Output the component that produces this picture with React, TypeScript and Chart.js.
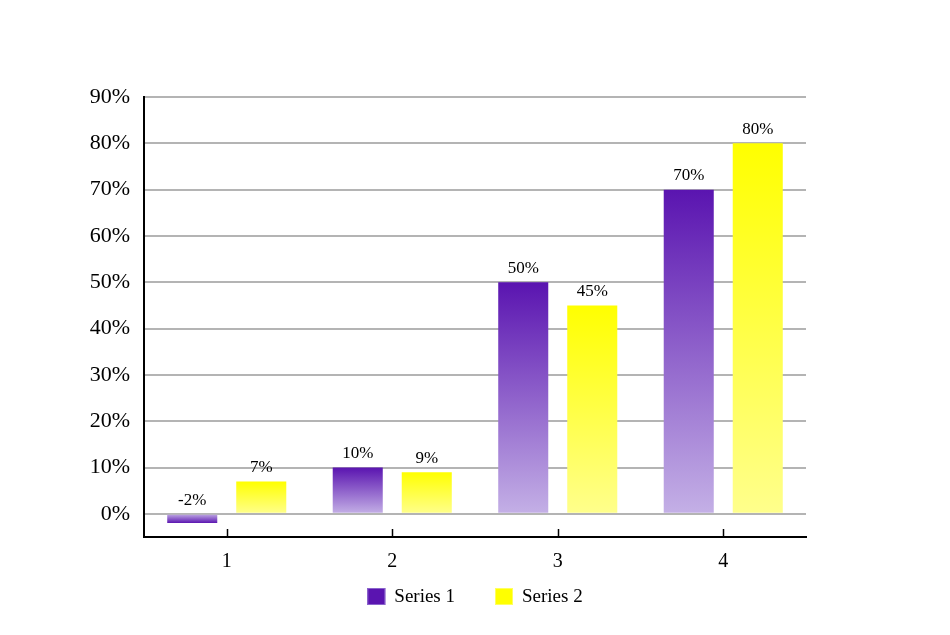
import React, { useEffect, useRef } from "react";
import { Chart, registerables } from "chart.js";

Chart.register(...registerables);

const categories = ["1", "2", "3", "4"];
const seriesNames = ["Series 1", "Series 2"];
const series1 = [-2, 10, 50, 70];
const series2 = [7, 9, 45, 80];
const yTickValues = [0, 10, 20, 30, 40, 50, 60, 70, 80, 90];
const yMin = -5;
const yMax = 90;

const FONT = "'Liberation Serif', 'Times New Roman', serif";
const PURPLE_DARK = "#5a14b0";
const PURPLE_LIGHT = "#c4b0e6";
const YELLOW_DARK = "#ffff00";
const YELLOW_LIGHT = "#ffff8c";
const LEGEND_FILL = [PURPLE_DARK, YELLOW_DARK];
const LEGEND_STROKE = ["#8a64cc", "#ffff60"];

function gradientFor(dark: string, light: string) {
  return (ctx: any) => {
    const chart = ctx.chart;
    const y = chart.scales && chart.scales.y;
    if (!chart.chartArea || !y || ctx.type !== "data") return dark;
    const v = ctx.raw as number;
    const p1 = y.getPixelForValue(v);
    const p0 = y.getPixelForValue(0);
    if (Math.abs(p1 - p0) < 0.5) return dark;
    const g = chart.ctx.createLinearGradient(0, p1, 0, p0);
    g.addColorStop(0, dark);
    g.addColorStop(1, light);
    return g;
  };
}

const valueLabels = {
  id: "valueLabels",
  afterDatasetsDraw(chart: any) {
    const { ctx } = chart;
    chart.data.datasets.forEach((ds: any, di: number) => {
      const meta = chart.getDatasetMeta(di);
      meta.data.forEach((bar: any, i: number) => {
        const v = ds.data[i];
        const top = Math.min(bar.y, bar.base);
        ctx.save();
        ctx.font = `17px ${FONT}`;
        ctx.fillStyle = "#000";
        ctx.textAlign = "center";
        ctx.textBaseline = "middle";
        ctx.fillText(`${v}%`, bar.x, top - 14);
        ctx.restore();
      });
    });
  },
};

const innerTicks = {
  id: "innerTicks",
  afterDraw(chart: any) {
    const { ctx, chartArea } = chart;
    const x = chart.scales.x;
    ctx.save();
    ctx.strokeStyle = "#000";
    ctx.lineWidth = 1.5;
    categories.forEach((_, i) => {
      const px = Math.round(x.getPixelForValue(i)) + 0.5;
      ctx.beginPath();
      ctx.moveTo(px, chartArea.bottom - 8);
      ctx.lineTo(px, chartArea.bottom);
      ctx.stroke();
    });
    ctx.restore();
  },
};

const customLegend = {
  id: "customLegend",
  afterDraw(chart: any) {
    const { ctx } = chart;
    const boxW = 18;
    const boxH = 17;
    const gap = 9;
    const itemGap = 40;
    ctx.save();
    ctx.font = `19px ${FONT}`;
    const items = chart.data.datasets.map((ds: any, i: number) => ({
      text: ds.label,
      w: boxW + gap + ctx.measureText(ds.label).width,
      i,
    }));
    const total =
      items.reduce((a: number, it: any) => a + it.w, 0) + itemGap * (items.length - 1);
    let x = chart.width / 2 - total / 2;
    const boxTop = 588;
    items.forEach((it: any) => {
      ctx.fillStyle = LEGEND_FILL[it.i];
      ctx.fillRect(x, boxTop, boxW, boxH);
      ctx.strokeStyle = LEGEND_STROKE[it.i];
      ctx.lineWidth = 1;
      ctx.strokeRect(x + 0.5, boxTop + 0.5, boxW - 1, boxH - 1);
      ctx.fillStyle = "#000";
      ctx.textAlign = "left";
      ctx.textBaseline = "middle";
      ctx.fillText(it.text, x + boxW + gap, boxTop + boxH / 2 + 1);
      x += it.w + itemGap;
    });
    ctx.restore();
  },
};

export default function App() {
  const ref = useRef<HTMLCanvasElement | null>(null);
  useEffect(() => {
    document.body.style.margin = "0";
    if (!ref.current) return;
    const chart = new Chart(ref.current, {
      type: "bar",
      data: {
        labels: categories,
        datasets: [
          {
            label: seriesNames[0],
            data: series1,
            backgroundColor: gradientFor(PURPLE_DARK, PURPLE_LIGHT),
            categoryPercentage: 0.834,
            barPercentage: 0.725,
          },
          {
            label: seriesNames[1],
            data: series2,
            backgroundColor: gradientFor(YELLOW_DARK, YELLOW_LIGHT),
            categoryPercentage: 0.834,
            barPercentage: 0.725,
          },
        ],
      },
      options: {
        responsive: false,
        animation: false,
        devicePixelRatio: 1,
        layout: { padding: { top: 97, bottom: 58, left: 0, right: 0 } },
        font: { family: FONT },
        plugins: {
          tooltip: { enabled: false },
          legend: { display: false },
        },
        scales: {
          x: {
            grid: { display: false },
            border: { display: true, color: "#000", width: 2 },
            ticks: {
              color: "#000",
              font: { family: FONT, size: 20 },
              padding: 5,
              autoSkip: false,
            },
            afterFit: (s: any) => {
              s.height = 40;
            },
          },
          y: {
            min: yMin,
            max: yMax,
            grid: { color: "#b4b4b4", lineWidth: 2, drawTicks: false },
            border: { display: true, color: "#000", width: 2 },
            ticks: {
              color: "#000",
              font: { family: FONT, size: 22 },
              padding: 14,
              callback: (v: any) => `${v}%`,
            },
            afterBuildTicks: (s: any) => {
              s.ticks = yTickValues.map((v) => ({ value: v }));
            },
            afterFit: (s: any) => {
              s.width = 144;
            },
          },
          yRight: {
            type: "linear",
            position: "right",
            display: true,
            grid: { display: false },
            border: { display: false },
            ticks: { display: false },
            afterFit: (s: any) => {
              s.width = 144;
            },
          },
        },
      } as any,
      plugins: [valueLabels, innerTicks, customLegend],
    });
    return () => chart.destroy();
  }, []);
  return (
    <div style={{ position: "absolute", left: 0, top: 0 }}>
      <canvas ref={ref} width={950} height={635} style={{ width: 950, height: 635 }} />
    </div>
  );
}
